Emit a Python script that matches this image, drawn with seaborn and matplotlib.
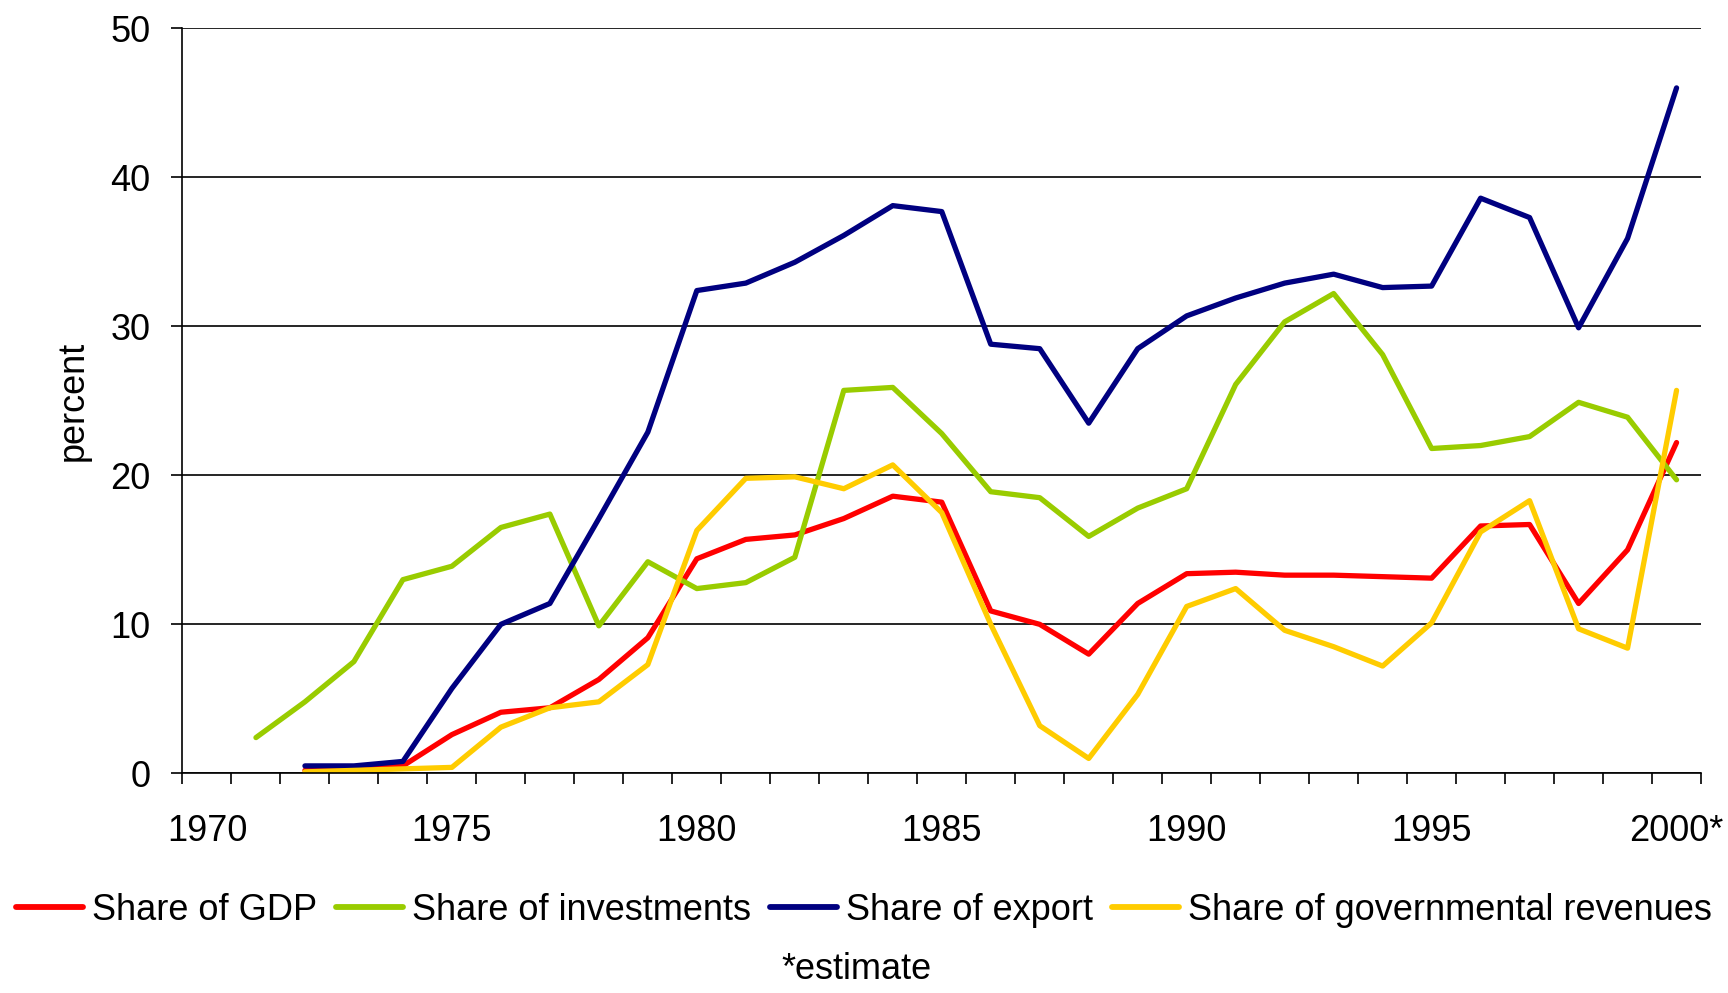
import matplotlib
matplotlib.use("Agg")
import matplotlib.pyplot as plt
import seaborn as sns
import pandas as pd
from matplotlib.lines import Line2D

years = list(range(1970, 2001))
gdp = [None, None, 0.2, 0.3, 0.5, 2.6, 4.1, 4.4, 6.3, 9.1, 14.4, 15.7, 16.0, 17.1, 18.6, 18.2,
       10.9, 10.0, 8.0, 11.4, 13.4, 13.5, 13.3, 13.3, 13.2, 13.1, 16.6, 16.7, 11.4, 15.0, 22.2]
investments = [None, 2.4, 4.8, 7.5, 13.0, 13.9, 16.5, 17.4, 9.9, 14.2, 12.4, 12.8, 14.5, 25.7, 25.9, 22.8,
               18.9, 18.5, 15.9, 17.8, 19.1, 26.1, 30.3, 32.2, 28.1, 21.8, 22.0, 22.6, 24.9, 23.9, 19.7]
export = [None, None, 0.5, 0.5, 0.8, 5.7, 10.0, 11.4, 17.1, 22.9, 32.4, 32.9, 34.3, 36.1, 38.1, 37.7,
          28.8, 28.5, 23.5, 28.5, 30.7, 31.9, 32.9, 33.5, 32.6, 32.7, 38.6, 37.3, 29.9, 35.9, 46.0]
revenues = [None, None, 0.1, 0.2, 0.3, 0.4, 3.1, 4.4, 4.8, 7.3, 16.3, 19.8, 19.9, 19.1, 20.7, 17.5,
            10.0, 3.2, 1.0, 5.3, 11.2, 12.4, 9.6, 8.5, 7.2, 10.1, 16.2, 18.3, 9.7, 8.4, 25.7]

series_names = ["Share of GDP", "Share of investments", "Share of export", "Share of governmental revenues"]
colors = ["#FF0000", "#99CC00", "#000080", "#FFCC00"]
tick_years = [1970, 1975, 1980, 1985, 1990, 1995, 2000]
tick_labels = ["1970", "1975", "1980", "1985", "1990", "1995", "2000*"]

frames = []
for name, vals in zip(series_names, [gdp, investments, export, revenues]):
    frames.append(pd.DataFrame({"year": years, "value": vals, "series": name}))
df = pd.concat(frames).dropna()

sns.set_style("white")
plt.rcParams["font.family"] = ["Liberation Sans", "DejaVu Sans"]
plt.rcParams["text.color"] = "black"
plt.rcParams["axes.labelcolor"] = "black"
plt.rcParams["xtick.color"] = "black"
plt.rcParams["ytick.color"] = "black"

fig = plt.figure(figsize=(17.28, 9.93), dpi=100)
ax = fig.add_axes([0.1056, 0.2212, 0.8788, 0.7503])

palette = dict(zip(series_names, colors))
sns.lineplot(data=df, x="year", y="value", hue="series", hue_order=series_names,
             palette=palette, linewidth=3.8, ax=ax, legend=False, estimator=None)

ax.set_xlim(1969.5, 2000.5)
ax.set_ylim(0, 50)
ax.set_yticks([0, 10, 20, 30, 40, 50])
ax.yaxis.grid(True, color="black", linewidth=1.2)
ax.set_axisbelow(True)

ax.set_xticks(tick_years)
ax.set_xticklabels(tick_labels)
ax.set_xticks([y - 0.5 for y in years] + [2000.5], minor=True)
ax.tick_params(bottom=True, left=True, which="both")
ax.tick_params(axis="x", which="major", length=0, pad=29, labelsize=26)
ax.tick_params(axis="x", which="minor", length=8, width=1.2, direction="out")
ax.tick_params(axis="y", which="major", length=8, width=1.2, direction="out", labelsize=26, pad=15)

for s in ["top", "right"]:
    ax.spines[s].set_visible(False)
for s in ["left", "bottom"]:
    ax.spines[s].set_color("black")
    ax.spines[s].set_linewidth(1.2)

ax.set_xlabel("")
ax.set_ylabel("percent", fontsize=26, labelpad=14)

handles = [Line2D([0], [0], color=c, linewidth=4.2) for c in colors]
fig.legend(handles, series_names, loc="center", bbox_to_anchor=(0.5, 0.083), ncol=4,
           frameon=False, fontsize=26, handlelength=1.85, handletextpad=0.25, columnspacing=0.53)

fig.text(0.4955, 0.006, "*estimate", ha="center", va="bottom", fontsize=26)

fig.savefig("out.png", dpi=100)
